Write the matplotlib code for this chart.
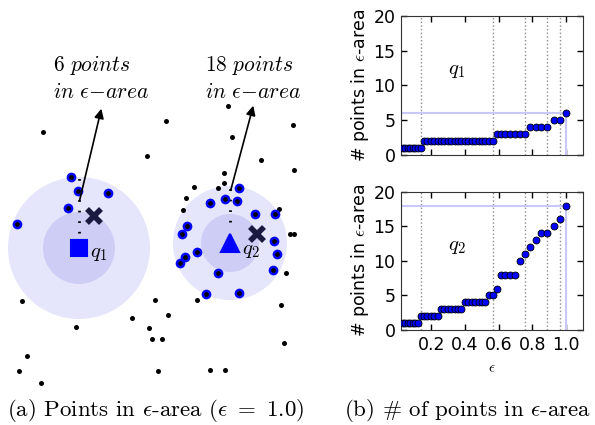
import numpy as np
import matplotlib
matplotlib.use('Agg')
import matplotlib.pyplot as plt
from matplotlib.patches import Circle

plt.rcParams['mathtext.fontset'] = 'cm'
plt.rcParams['font.family'] = 'DejaVu Sans'

#---Data: epsilon grid and counts of points in epsilon-area
eps = [0.031, 0.046, 0.061, 0.076, 0.091, 0.106, 0.121, 0.136,
       0.156, 0.177, 0.197, 0.217, 0.238,
       0.258, 0.278, 0.298, 0.319, 0.339, 0.359, 0.379,
       0.400, 0.420, 0.440, 0.460, 0.481, 0.501, 0.521,
       0.540, 0.564,
       0.590, 0.612, 0.640, 0.668, 0.696, 0.724, 0.755,
       0.786, 0.819, 0.852, 0.887,
       0.925, 0.962, 1.0]
count_q1 = [1, 1, 1, 1, 1, 1, 1, 1,
            2, 2, 2, 2, 2,
            2, 2, 2, 2, 2, 2, 2,
            2, 2, 2, 2, 2, 2, 2,
            2, 2,
            3, 3, 3, 3, 3, 3, 3,
            4, 4, 4, 4,
            5, 5, 6]
count_q2 = [1, 1, 1, 1, 1, 1, 1, 2,
            2, 2, 2, 2, 2,
            3, 3, 3, 3, 3, 3, 3,
            4, 4, 4, 4, 4, 4, 4,
            5, 5,
            6, 8, 8, 8, 8, 10, 11,
            12, 13, 14, 14,
            15, 16, 18]

#---Data: points on the map (left panel)
other_x = [4.3, 16.6, 14.7, 22.8, 23.2, 29.3, 26.1, 29.4, 22.4, 19.4, 22.4, 21.8,
           18.6, 18.3, 27.9, 29.0, 29.4, 28.6, 2.2, 15.5, 19.7, 28.1, 16.8, 13.2,
           7.6, 14.9, 15.2, 16.2, 28.4, 2.7, 1.9, 15.8, 21.0, 22.5, 4.1]
other_y = [29.3, 30.4, 26.9, 31.9, 28.8, 30.0, 26.5, 25.5, 25.2, 23.8, 24.2, 23.7,
           22.7, 21.5, 21.6, 19.1, 19.1, 15.2, 12.4, 12.5, 12.5, 12.0, 11.0, 10.7,
           9.8, 9.7, 8.6, 8.6, 8.2, 6.9, 5.4, 5.4, 5.5, 5.5, 4.2]
in1_x = [7.1, 7.8, 10.8, 6.8, 1.7]
in1_y = [24.8, 23.4, 23.2, 21.7, 20.1]
in2_x = [22.5, 23.9, 23.7, 21.0, 25.5, 27.5, 18.7, 18.2, 19.7, 27.4, 27.7, 18.5,
         18.0, 21.8, 27.3, 20.6, 23.9]
in2_y = [22.6, 23.7, 22.4, 22.2, 21.1, 21.1, 19.9, 19.1, 17.3, 18.4, 17.1, 16.8,
         16.2, 15.2, 15.5, 13.1, 13.2]
q1 = (7.9, 17.7)
q2 = (23.0, 18.2)
r1 = (7.1, 3.6)   # outer, inner radius
r2 = (5.7, 2.9)
cross1 = (9.4, 20.9)
cross2 = (25.7, 19.1)
n1 = 6
n2 = 18

fig = plt.figure(figsize=(5.95, 4.25), dpi=100)

#---Left panel
ax = fig.add_axes([0, 0, 300/595, 1])
ax.set_xlim(0, 30)
ax.set_ylim(0, 42.5)
ax.axis('off')

for (cx, cy), (ro, ri) in [(q1, r1), (q2, r2)]:
    ax.add_patch(Circle((cx, cy), ro, facecolor='#e5e5fc', edgecolor='none', zorder=1))
    ax.add_patch(Circle((cx, cy), ri, facecolor='#cdcdf6', edgecolor='none', zorder=1))

ax.plot(other_x, other_y, 'o', color='k', ms=3.6, mew=0, zorder=3)
for xs, ys in [(in1_x, in1_y), (in2_x, in2_y)]:
    ax.plot(xs, ys, 'o', color='#0000ff', ms=7, mew=0, zorder=3)
    ax.plot(xs, ys, 'o', color='k', ms=3.4, mew=0, zorder=4)

# dotted lines from query upwards
ax.plot([q1[0], q1[0]], [q1[1]+1.5, 24.8], color='k', lw=2, ls=(0, (0.6, 3.2)), zorder=2)
ax.plot([q2[0], q2[0]], [q2[1]+2.1, 23.7], color='k', lw=2, ls=(0, (0.6, 3.2)), zorder=2)

ax.plot(*q1, 's', color='#0000ff', ms=12, mew=1.5, mec='#0000ff', zorder=5)
ax.plot(*q2, '^', color='#0000ff', ms=13, mew=1.5, mec='#0000ff', zorder=5)
ax.plot(*cross1, 'x', color='#1a1a40', ms=10, mew=4, zorder=5)
ax.plot(*cross2, 'x', color='#1a1a40', ms=10, mew=4, zorder=5)

ax.text(q1[0]+1.1, q1[1]-0.5, r'$q_1$', fontsize=15, va='center', zorder=6)
ax.text(q2[0]+1.2, q2[1]-0.7, r'$q_2$', fontsize=15, va='center', zorder=6)

for (sx, sy), (tx, ty), n, lx in [((7.9, 22.2), (10.2, 31.9), n1, 5.3),
                                  ((23.0, 23.2), (25.4, 32.2), n2, 20.5)]:
    ax.annotate('', xy=(tx, ty), xytext=(sx, sy),
                arrowprops=dict(arrowstyle='-|>', color='k', lw=1.2, mutation_scale=14),
                zorder=6)
    ax.text(lx, 37.2, r'$%d\ points$' % n + '\n' + r'$in\ \epsilon{-}area$',
            fontsize=15.5, va='top', ha='left', linespacing=1.3)

#---Right panels
def count_plot(rect, counts, label, show_x):
    a = fig.add_axes(rect)
    n = counts[-1]
    a.plot(eps, counts, 'o', color='#0000ff', mec='k', mew=0.6, ms=5, zorder=4)
    # dotted lines where q1 count steps
    for i in range(len(count_q1)-1):
        if count_q1[i+1] != count_q1[i]:
            a.axvline(eps[i], color='0.55', ls=':', lw=1, zorder=1)
    a.plot([0, eps[-1]], [n, n], color='#c8c8fa', lw=1.5, zorder=2)
    a.plot([eps[-1], eps[-1]], [0, n], color='#c8c8fa', lw=1.5, zorder=2)
    a.set_xlim(0.02, 1.1)
    a.set_ylim(0, 20)
    a.set_xticks([0.2, 0.4, 0.6, 0.8, 1.0])
    a.set_yticks([0, 5, 10, 15, 20])
    a.tick_params(direction='in', top=True, right=True, length=4, width=1,
                  labelsize=12.5, pad=4)
    for s in a.spines.values():
        s.set_color('0.2')
    a.text(0.35, 12.2, label, fontsize=15, ha='center', va='center')
    a.set_ylabel(r'# points in $\epsilon$-area', fontsize=12.5, labelpad=2)
    if show_x:
        a.set_xlabel(r'$\epsilon$', fontsize=11, labelpad=5)
    else:
        a.set_xticklabels([])
    return a

count_plot([401/595, 1-155/425, 182/595, 139.3/425], count_q1, r'$q_1$', False)
count_plot([401/595, 1-330/425, 182/595, 138.3/425], count_q2, r'$q_2$', True)

#---Captions
fig.text(156/595, 1-410/425, r'(a) Points in $\epsilon$-area ($\epsilon\ =\ 1.0$)',
         fontfamily='cmr10', fontsize=16.5, ha='center', va='center')
fig.text(468/595, 1-410/425, r'(b) # of points in $\epsilon$-area',
         fontfamily='cmr10', fontsize=16.5, ha='center', va='center')

fig.savefig('out.png', dpi=100)
